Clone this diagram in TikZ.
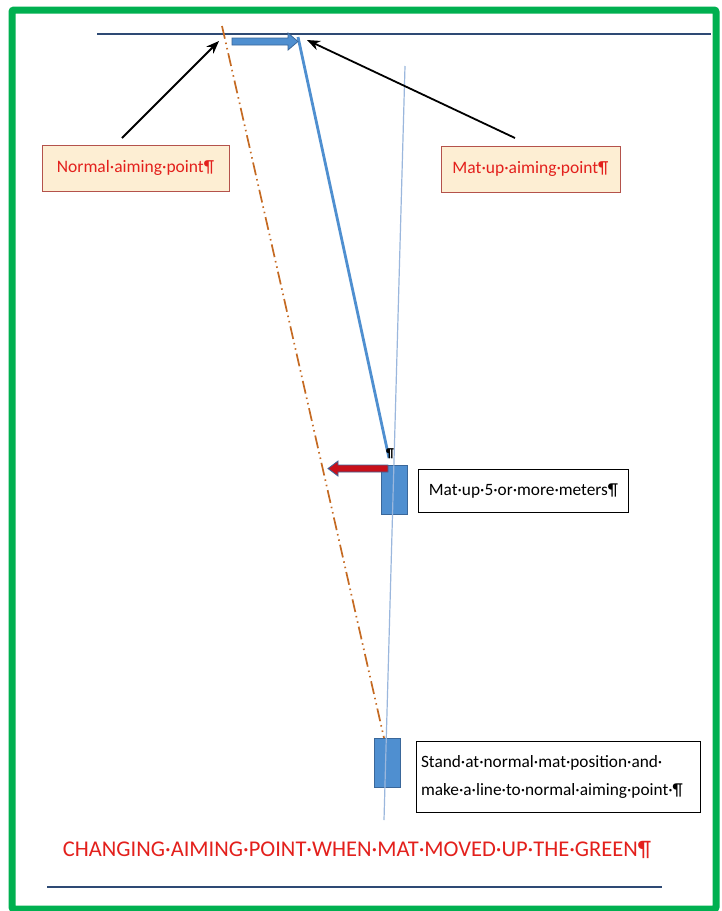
\documentclass[tikz,border=0pt]{standalone}
\usepackage{fontspec}
\setmainfont{Carlito}
\usetikzlibrary{arrows.meta}
\definecolor{frameg}{HTML}{00B050}
\definecolor{rulec}{HTML}{2E4A74}
\definecolor{matblue}{HTML}{4F8FD0}
\definecolor{matedge}{HTML}{3A679A}
\definecolor{thinblue}{HTML}{9BB7DD}
\definecolor{orangec}{HTML}{C56A22}
\definecolor{labfill}{HTML}{FDEED3}
\definecolor{labedge}{HTML}{B4524B}
\definecolor{labtext}{HTML}{E3201C}
\definecolor{redarrow}{HTML}{C8101A}
\begin{document}
\begin{tikzpicture}[x=1pt,y=-1pt,
  redlabel/.style={draw=labedge, line width=1pt, fill=labfill, text=labtext,
    font=\fontsize{17.5}{21}\selectfont, minimum height=46pt, inner sep=2pt},
  blacklabel/.style={draw=black, line width=0.9pt, fill=white, text=black,
    font=\fontsize{17.3}{28}\selectfont, inner sep=2pt},
  matbox/.style={draw=matedge, line width=1pt, fill=matblue},
  pointer/.style={draw=black, line width=1.8pt, -{Stealth[length=13pt,width=10pt]}},
]
\useasboundingbox (0,0) rectangle (722,911);
\fill[white] (0,0) rectangle (722,911);
% green frame
\draw[frameg, line width=7pt, rounded corners=2pt] (12,10) rectangle (716,909);
% horizontal rules
\draw[rulec, line width=1.6pt] (97,34) -- (711,34);
\draw[rulec, line width=1.6pt] (47,887) -- (662,887);
% points
\coordinate (normalpt) at (219,41);
\coordinate (matuppt) at (307,40);
\coordinate (arrowA) at (122,138);
\coordinate (arrowB) at (515,138);
\coordinate (orangetop) at (222,26);
\coordinate (orangebot) at (384,738);
\coordinate (thintop) at (405,66);
\coordinate (thinbot) at (384,820);
\coordinate (bluetop) at (298,37);
\coordinate (bluebot) at (389,458);
% mats
\node[matbox, minimum width=26pt, minimum height=49pt, inner sep=0pt] (upmat) at (394,489.5) {};
\node[matbox, minimum width=26pt, minimum height=49pt, inner sep=0pt] (lowmat) at (387.5,762.5) {};
% thin guide line
\draw[thinblue, line width=1.2pt] (thintop) -- (thinbot);
% orange dash-dot-dot line
\draw[orangec, line width=1.7pt, dash pattern=on 13pt off 4pt on 1.5pt off 4pt on 1.5pt off 4pt]
  (orangetop) -- (orangebot);
% thick blue line to mat-up
\draw[matblue, line width=2.8pt] (bluetop) -- (bluebot);
% blue block arrow along the top
\draw[matedge, fill=matblue, line width=0.8pt]
  (232,38) -- (288,38) -- (288,33) -- (298,41.5) -- (288,50) -- (288,45) -- (232,45) -- cycle;
% red block arrow
\draw[matedge, fill=redarrow, line width=0.8pt]
  (388,465) -- (338,465) -- (338,461) -- (328,468.5) -- (338,476) -- (338,472) -- (388,472) -- cycle;
% pilcrow above mat
\node[font=\fontsize{13}{13}\selectfont\bfseries, inner sep=0pt] (pil) at (390,454) {¶};
% labels
\node[redlabel, minimum width=187pt] (lab1) at (135.5,168) {Normal·aiming·point¶};
\node[redlabel, minimum width=179pt] (lab2) at (530.5,169) {Mat·up·aiming·point¶};
\node[blacklabel, minimum width=210pt, minimum height=43pt] (lab3) at (523.5,491) {Mat·up·5·or·more·meters¶};
\node[blacklabel, minimum width=284pt, minimum height=71pt, text width=274pt, align=left] (lab4) at (558,776.5)
  {Stand·at·normal·mat·position·and·\\make·a·line·to·normal·aiming·point·¶};
% pointers
\draw[pointer] (arrowA) -- (normalpt);
\draw[pointer] (arrowB) -- (matuppt);
% title
\node[text=labtext, font=\fontsize{22.5}{26}\selectfont, inner sep=0pt] (title) at (357,850)
  {CHANGING·AIMING·POINT·WHEN·MAT·MOVED·UP·THE·GREEN¶};
\end{tikzpicture}
\end{document}
